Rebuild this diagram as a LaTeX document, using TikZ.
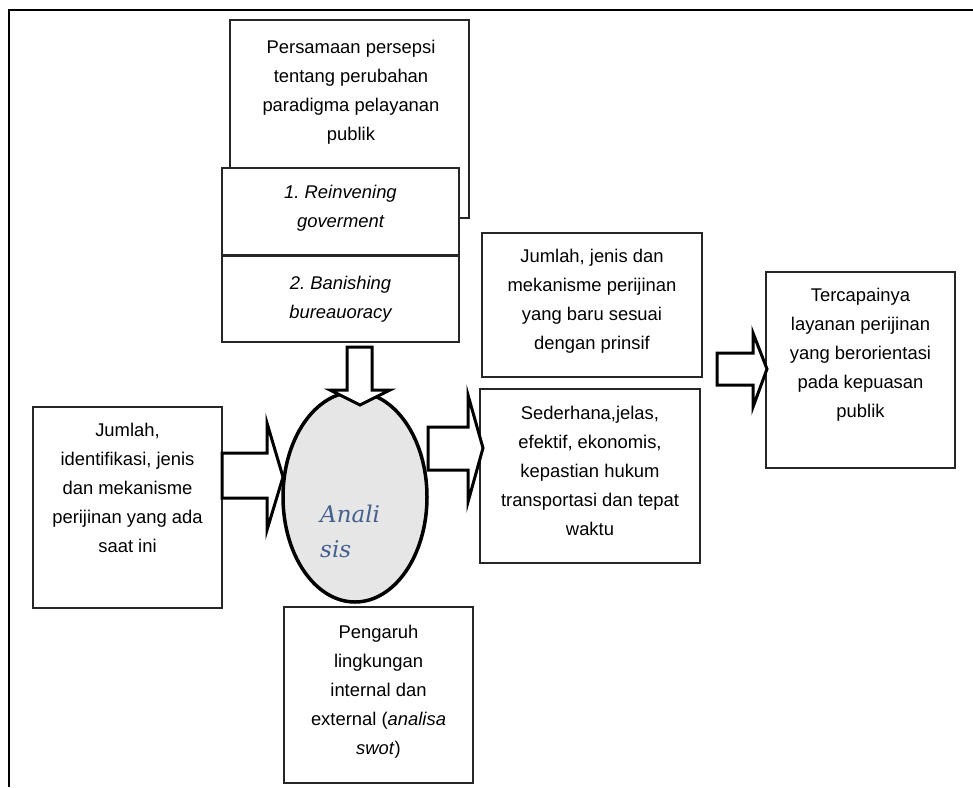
\documentclass[tikz,border=0pt]{standalone}
\usepackage{fontspec}
\setmainfont{Liberation Sans}
\newfontfamily\anafont{DejaVu Serif}
\usetikzlibrary{shapes.geometric}
\frenchspacing
\definecolor{anablue}{HTML}{44608F}
\definecolor{ellfill}{HTML}{E6E6E6}
\tikzset{
  box/.style={draw=black!85, line width=1.3pt, fill=white, inner sep=0pt, rectangle},
  txt/.style={anchor=north, inner sep=0pt, align=center, font=\fontsize{18.4}{29}\selectfont},
  blockarrow/.style={draw=black, line width=3pt, fill=white, line join=miter},
  frameline/.style={line width=2.6pt, black}
}
\begin{document}
\begin{tikzpicture}[x=1pt,y=-1pt]
\useasboundingbox (0,0) rectangle (973,787);
% outer frame
\draw[frameline] (973,10) -- (9,10) -- (9,787);
% top boxes
\node[box, minimum width=239pt, minimum height=198pt] (per) at (349.5,119) {};
\node[txt] (tper) at (351,40) {Persamaan persepsi\\tentang perubahan\\paradigma pelayanan\\publik};
\node[box, minimum width=237pt, minimum height=87pt] (rei) at (340.5,211.5) {};
\node[txt] (trei) at (340.5,185) {\itshape 1. Reinvening\\\itshape goverment};
\node[box, minimum width=237pt, minimum height=87pt] (ban) at (340.5,298.5) {};
\node[txt] (tban) at (340.5,276) {\itshape 2. Banishing\\\itshape bureauoracy};
\draw[black!85, line width=2.2pt] (rei.south west) -- (rei.south east);
% left box
\node[box, minimum width=189pt, minimum height=201pt] (jl) at (127.5,507.5) {};
\node[txt] (tjl) at (127.5,423) {Jumlah,\\identifikasi, jenis\\dan mekanisme\\perijinan yang ada\\saat ini};
% right boxes
\node[box, minimum width=220pt, minimum height=144pt] (jr) at (592,305) {};
\node[txt] (tjr) at (592,249) {Jumlah, jenis dan\\mekanisme perijinan\\yang baru sesuai\\dengan prinsif};
\node[box, minimum width=220pt, minimum height=174pt] (sed) at (590,476) {};
\node[txt] (tsed) at (590,406) {Sederhana,jelas,\\efektif, ekonomis,\\kepastian hukum\\transportasi dan tepat\\waktu};
\node[box, minimum width=189pt, minimum height=196pt] (ter) at (860.5,370) {};
\node[txt] (tter) at (860.5,288) {Tercapainya\\layanan perijinan\\yang berorientasi\\pada kepuasan\\publik};
% ellipse
\node[draw=black, line width=3.5pt, fill=ellfill, ellipse, inner sep=0pt, minimum width=144pt, minimum height=210pt] (ana) at (355,497) {};
\node[anchor=base west, inner sep=0pt, text=anablue, font=\anafont\itshape\fontsize{23}{28}\selectfont] (an1) at (320,522) {Anali};
\node[anchor=base west, inner sep=0pt, text=anablue, font=\anafont\itshape\fontsize{23}{28}\selectfont] (an2) at (320,557) {sis};
% bottom box
\node[box, minimum width=189pt, minimum height=176pt] (pen) at (378.5,695) {};
\node[txt] (tpen) at (378.5,625) {Pengaruh\\lingkungan\\internal dan\\external (\textit{analisa}\\\textit{swot})};
% block arrows
\draw[blockarrow] (347,347) -- (372,347) -- (372,390) -- (390,390) -- (360,405) -- (330,390) -- (347,390) -- cycle;
\draw[blockarrow] (222,453) -- (267,453) -- (267,423) -- (283,477) -- (267,530) -- (267,498) -- (222,498) -- cycle;
\draw[blockarrow] (428,427) -- (468,427) -- (468,395) -- (483,448) -- (468,502) -- (468,470) -- (428,470) -- cycle;
\draw[blockarrow] (717,353) -- (753,353) -- (753,333) -- (767,369) -- (753,407) -- (753,385) -- (717,385) -- cycle;
\end{tikzpicture}
\end{document}
